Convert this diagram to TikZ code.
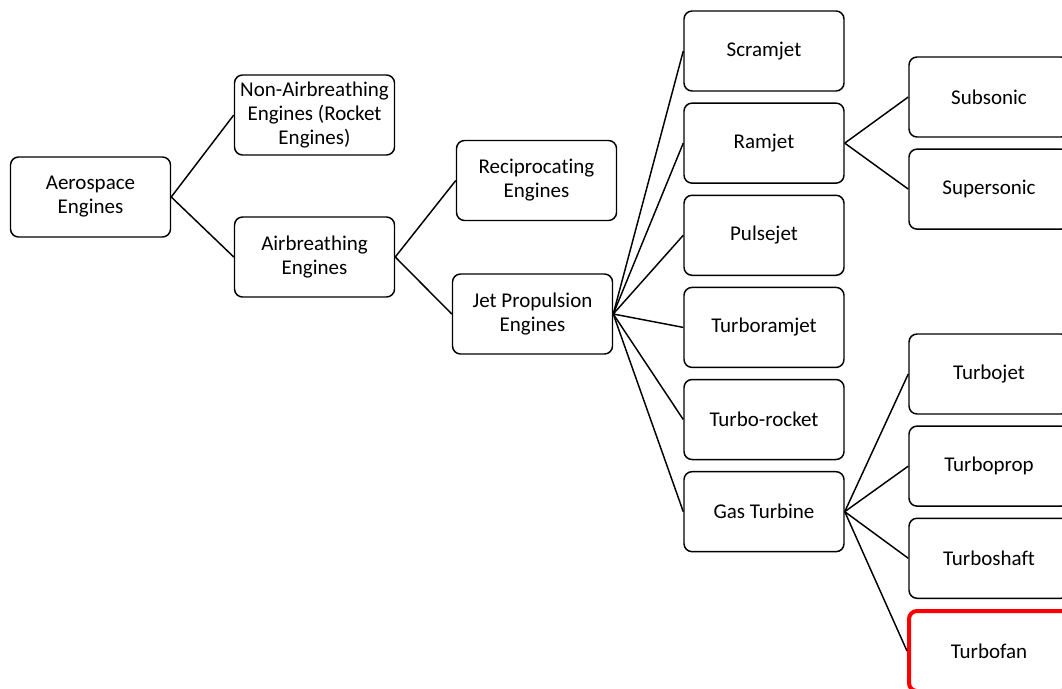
\documentclass[tikz,border=0pt]{standalone}
\usepackage{fontspec}
\setmainfont{Carlito}[Ligatures={NoCommon}]
\usepackage{xcolor}
\usetikzlibrary{positioning}
\definecolor{highlight}{RGB}{255,0,0}

\begin{document}
\begin{tikzpicture}[x=0.75pt, y=-0.75pt, node distance=8pt,
    engine/.style={draw, rectangle, rounded corners=6pt, line width=1.1pt,
        minimum width=120pt, minimum height=60pt, inner sep=1pt,
        align=center, font=\fontsize{15.75}{18}\selectfont},
    link/.style={line width=1.1pt}]
    \useasboundingbox (0,0) rectangle (1062,688);
    \clip (0,0) rectangle (1062,688);

    \node[engine] (aero) at (90.5,197) {Aerospace\\Engines};
    \node[engine] (nonair) at (314.5,115) {Non-Airbreathing\\Engines (Rocket\\Engines)};
    \node[engine] (air) at (314.5,257) {Airbreathing\\Engines};
    \node[engine] (recip) at (536.5,180.5) {Reciprocating\\Engines};
    \node[engine] (jet) at (532.5,314) {Jet Propulsion\\Engines};

    \node[engine] (scram) at (764,51) {Scramjet};
    \node[engine, below=of scram] (ram) {Ramjet};
    \node[engine, below=of ram] (pulse) {Pulsejet};
    \node[engine, below=of pulse] (turboram) {Turboramjet};
    \node[engine, below=of turboram] (turborocket) {Turbo-rocket};
    \node[engine, below=of turborocket] (gas) {Gas Turbine};

    \node[engine] (subsonic) at (989,97) {Subsonic};
    \node[engine, below=of subsonic] (supersonic) {Supersonic};

    \node[engine] (turbojet) at (989,374) {Turbojet};
    \node[engine, below=of turbojet] (turboprop) {Turboprop};
    \node[engine, below=of turboprop] (turboshaft) {Turboshaft};
    \node[engine, draw=highlight, line width=3pt] (turbofan) at (989,651) {Turbofan};

    \draw[link] (aero.east) -- (nonair.west);
    \draw[link] (aero.east) -- (air.west);
    \draw[link] (air.east) -- (recip.west);
    \draw[link] (air.east) -- (jet.west);
    \foreach \k in {scram, ram, pulse, turboram, turborocket, gas}
        \draw[link] (jet.east) -- (\k.west);
    \foreach \k in {subsonic, supersonic}
        \draw[link] (ram.east) -- (\k.west);
    \foreach \k in {turbojet, turboprop, turboshaft, turbofan}
        \draw[link] (gas.east) -- (\k.west);
\end{tikzpicture}
\end{document}
